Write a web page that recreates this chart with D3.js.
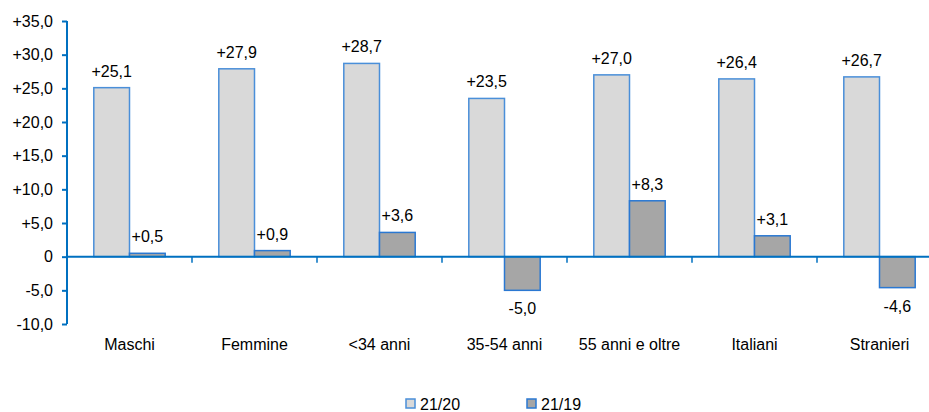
<!DOCTYPE html>
<html><head><meta charset="utf-8">
<script src="https://cdn.jsdelivr.net/npm/d3@7"></script>
<style>body{margin:0;background:#fff}svg{display:block;font-family:"Liberation Sans",Arial,sans-serif}</style>
</head><body><svg id="c" width="929" height="412"></svg>
<script>
const categories = ["Maschi","Femmine","<34 anni","35-54 anni","55 anni e oltre","Italiani","Stranieri"];
const series2120 = [25.1,27.9,28.7,23.5,27.0,26.4,26.7];
const series2119 = [0.5,0.9,3.6,-5.0,8.3,3.1,-4.6];
const seriesNames = ["21/20","21/19"];
const yTicks = [-10,-5,0,5,10,15,20,25,30,35];

const svg = d3.select("#c");
const fmt = v => v === 0 ? "0" : (v > 0 ? "+" : "-") + Math.abs(v).toFixed(1).replace(".", ",");
const y = d3.scaleLinear().domain([-10,35]).range([324,21]);
const x = d3.scaleBand().domain(categories).range([67,942]);
const blue = "#0070c0";
const fills = ["#d9d9d9","#a6a6a6"];
const strokes = ["#4a8fd9","#2a78d2"];
const bw = 35.7;
const fs = 16;

// y axis
const ya = svg.append("g").attr("transform","translate(67,0)")
  .call(d3.axisLeft(y).tickValues(yTicks).tickFormat(fmt).tickSize(5).tickPadding(9));
ya.select(".domain").attr("stroke",blue).attr("stroke-width",2).attr("d","M0,"+y(35)+"V"+y(-10));
ya.selectAll(".tick line").attr("stroke",blue).attr("stroke-width",2);
ya.selectAll(".tick text").attr("font-size",fs).attr("fill","#000").attr("font-family","Liberation Sans, Arial, sans-serif");

const data = [series2120, series2119];
data.forEach((s, si) => {
  svg.append("g").selectAll("rect").data(s).join("rect")
    .attr("x", (d,i) => x(categories[i]) + x.bandwidth()/2 - bw + si*bw)
    .attr("y", d => y(Math.max(0,d)))
    .attr("width", bw)
    .attr("height", d => Math.abs(y(d) - y(0)))
    .attr("fill", fills[si]).attr("stroke", strokes[si]).attr("stroke-width",1.5);
  svg.append("g").selectAll("text").data(s).join("text")
    .attr("x", (d,i) => x(categories[i]) + x.bandwidth()/2 - bw/2 + si*bw)
    .attr("y", d => d >= 0 ? y(d) - 11 : y(d) + 24)
    .attr("text-anchor","middle").attr("font-size",fs).attr("fill","#000")
    .text(fmt);
});

// zero axis line
svg.append("line").attr("x1",67).attr("x2",929).attr("y1",y(0)).attr("y2",y(0))
  .attr("stroke",blue).attr("stroke-width",2);
// category ticks
svg.append("g").selectAll("line").data(categories.slice(1)).join("line")
  .attr("x1", d => x(d)).attr("x2", d => x(d))
  .attr("y1", y(0)).attr("y2", y(0)+6).attr("stroke",blue).attr("stroke-width",1.5);
// category labels
svg.append("g").selectAll("text").data(categories).join("text")
  .attr("x", d => x(d) + x.bandwidth()/2).attr("y", 350)
  .attr("text-anchor","middle").attr("font-size",fs).attr("fill","#000").text(d => d);

// legend
const lx = [406, 527];
seriesNames.forEach((n, i) => {
  svg.append("rect").attr("x", lx[i]).attr("y", 399).attr("width", 9).attr("height", 9)
    .attr("fill", fills[i]).attr("stroke", strokes[i]).attr("stroke-width",1.5);
  svg.append("text").attr("x", lx[i]+14).attr("y", 410).attr("font-size",fs).attr("fill","#000").text(n);
});
</script></body></html>
